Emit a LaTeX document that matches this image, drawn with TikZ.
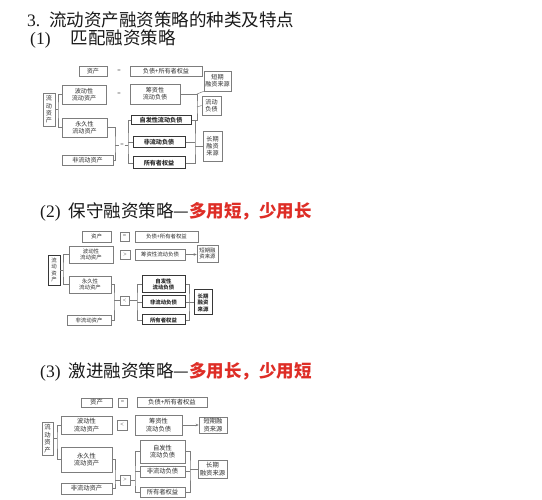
\documentclass[tikz,border=0pt]{standalone}
\usepackage{fontspec}
\setmainfont{Liberation Serif}
\newfontfamily\cjk{Noto Sans CJK SC}
\usetikzlibrary{arrows.meta}
\definecolor{boxgray}{RGB}{125,125,125}
\definecolor{darkline}{RGB}{55,55,55}
\definecolor{txtgray}{RGB}{45,45,45}
\definecolor{hred}{RGB}{222,45,38}
\definecolor{htxt}{RGB}{25,25,25}
\tikzset{
  box/.style={draw=boxgray, line width=0.6pt, inner sep=0pt, align=center, text=txtgray},
  bx1/.style={box, font=\cjk\fontsize{6.1}{7.2}\selectfont},
  bb1/.style={box, draw=darkline, line width=1pt, font=\cjk\bfseries\fontsize{6.1}{7.2}\selectfont},
  bx2/.style={box, font=\cjk\fontsize{5.4}{6.5}\selectfont},
  bb2/.style={box, draw=darkline, line width=1pt, font=\cjk\bfseries\fontsize{5.4}{6.5}\selectfont},
  bx3/.style={box, font=\cjk\fontsize{6.3}{7.5}\selectfont},
  sym/.style={inner sep=1pt, text=txtgray, font=\fontsize{6}{7}\selectfont},
  conn/.style={draw=boxgray, line width=0.5pt},
  arr/.style={conn, -{Stealth[length=3pt,width=2.6pt]}},
  head/.style={inner sep=0pt, anchor=west, text=htxt, font=\fontsize{17.5}{20}\selectfont}
}
\begin{document}
\begin{tikzpicture}[x=1pt,y=-1pt]
\fill[white] (0,0) rectangle (542,500);
\useasboundingbox (0,0) rectangle (542,500);

% ---------- headings ----------
\node[head] (h0) at (27,20) {3.\hspace{9pt}{\cjk 流动资产融资策略的种类及特点}};
\node[head] (h1) at (30,39) {(1)\hspace{20pt}{\cjk 匹配融资策略}};
\node[head] (h2) at (40,212) {(2)\hspace{8pt}{\cjk 保守融资策略—}{\cjk\bfseries\color{hred}多用短，少用长}};
\node[head] (h3) at (40,372) {(3)\hspace{8pt}{\cjk 激进融资策略—}{\cjk\bfseries\color{hred}多用长，少用短}};

% ---------- diagram 1 ----------
\node[bx1, minimum width=28pt, minimum height=10pt] (d1a) at (93,71) {资产};
\node[sym] (d1q1) at (119,71) {=};
\node[bx1, minimum width=72pt, minimum height=10pt] (d1b) at (166,71) {负债+所有者权益};
\node[bx1, minimum width=12pt, minimum height=33pt] (d1c) at (49,109.5) {流\\动\\资\\产};
\node[bx1, minimum width=44pt, minimum height=19pt] (d1d) at (84,94.5) {波动性\\流动资产};
\node[sym] (d1q2) at (119,94) {=};
\node[bx1, minimum width=50pt, minimum height=20pt] (d1e) at (155,94) {筹资性\\流动负债};
\node[bx1, minimum width=27pt, minimum height=20pt] (d1f) at (217.5,81) {短期\\融资来源};
\node[bx1, minimum width=19pt, minimum height=19pt] (d1g) at (211.5,105.5) {流动\\负债};
\node[bx1, minimum width=45pt, minimum height=19pt] (d1h) at (84.5,127.5) {永久性\\流动资产};
\node[bx1, minimum width=51pt, minimum height=10pt] (d1i) at (87.5,160) {非流动资产};
\node[bb1, minimum width=60pt, minimum height=9pt] (d1j) at (161,120.5) {自发性流动负债};
\node[bb1, minimum width=52pt, minimum height=11pt] (d1k) at (159,142.5) {非流动负债};
\node[bb1, minimum width=52pt, minimum height=12pt] (d1o) at (159,163) {所有者权益};
\node[bx1, minimum width=19pt, minimum height=30pt] (d1m) at (212.5,146) {长期\\融资\\来源};
\node[sym] (d1q3) at (122,145) {=};
\coordinate (d1p) at (58,109.5);
\coordinate (d1r) at (115,145);
\coordinate (d1s) at (128,145);
\coordinate (d1t) at (197,107);
\coordinate (d1u) at (195,146);
\draw[conn] (d1c.east) -- (d1p);
\draw[conn] (d1d.west) -| (d1p) |- (d1h.west);
\draw[conn] (d1h.east) -| (d1r) |- (d1i.east);
\draw[conn] (d1r) -- (d1q3);
\draw[conn] (d1q3) -- (d1s);
\draw[conn] (d1j.west) -| (d1s) |- (d1o.west);
\draw[conn] (d1k.west) -- (d1k.west -| d1s);
\draw[conn] (d1e.east) -| (d1t) |- (d1j.east);
\draw[conn] (d1t) -- (d1g.west);
\draw[conn] (d1e.east -| d1t) -- (d1f.south west);
\draw[conn] (d1j.east) -| (d1u) |- (d1o.east);
\draw[conn] (d1k.east) -- (d1k.east -| d1u);
\draw[conn] (d1u) -- (d1m.west);

% ---------- diagram 2 ----------
\node[bx2, minimum width=29pt, minimum height=11pt] (d2a) at (96.5,236.5) {资产};
\node[box, sym, minimum width=9pt, minimum height=9pt] (d2eq) at (124.5,236.5) {=};
\node[bx2, minimum width=63pt, minimum height=11pt] (d2b) at (166.5,236.5) {负债+所有者权益};
\node[bx2, draw=darkline, line width=0.9pt, minimum width=12pt, minimum height=30pt] (d2c) at (54,270) {流\\动\\资\\产};
\node[bx2, minimum width=44pt, minimum height=17pt] (d2d) at (91,254.5) {波动性\\流动资产};
\node[box, sym, minimum width=10pt, minimum height=9pt] (d2gt) at (125,254.5) {>};
\node[bx2, minimum width=50pt, minimum height=11pt] (d2e) at (160,254.5) {筹资性流动负债};
\node[bx2, minimum width=21pt, minimum height=17pt] (d2f) at (207.5,253.5) {短期融\\资来源};
\node[bx2, minimum width=42pt, minimum height=17pt] (d2h) at (90,284.5) {永久性\\流动资产};
\node[bx2, minimum width=44pt, minimum height=10pt] (d2i) at (89,320) {非流动资产};
\node[box, sym, minimum width=9pt, minimum height=9pt] (d2lt) at (124.5,300.5) {<};
\node[bb2, minimum width=43pt, minimum height=17pt] (d2j) at (163.5,284.5) {自发性\\流动负债};
\node[bb2, minimum width=43pt, minimum height=12pt] (d2k) at (163.5,302) {非流动负债};
\node[bb2, minimum width=43pt, minimum height=10pt] (d2o) at (163.5,320) {所有者权益};
\node[bb2, minimum width=18pt, minimum height=25pt] (d2m) at (203,302.5) {长期\\融资\\来源};
\coordinate (d2p) at (63,270);
\coordinate (d2r) at (114,300.5);
\coordinate (d2s) at (137,300.5);
\coordinate (d2t) at (189,302.5);
\draw[conn] (d2c.east) -- (d2p);
\draw[conn] (d2d.west) -| (d2p) |- (d2h.west);
\draw[conn] (d2h.east) -| (d2r) |- (d2i.east);
\draw[conn] (d2r) -- (d2lt.west);
\draw[conn] (d2lt.east) -- (d2s);
\draw[conn] (d2j.west) -| (d2s) |- (d2o.west);
\draw[conn] (d2k.west) -- (d2k.west -| d2s);
\draw[conn] (d2j.east) -| (d2t) |- (d2o.east);
\draw[conn] (d2k.east) -- (d2k.east -| d2t);
\draw[conn] (d2t) -- (d2m.west);
\draw[arr] (d2e.east) -- (d2f.west |- d2e.east);

% ---------- diagram 3 ----------
\node[bx3, minimum width=31pt, minimum height=9pt] (d3a) at (96.5,402.5) {资产};
\node[box, sym, minimum width=9pt, minimum height=9pt] (d3eq) at (122.5,402.5) {=};
\node[bx3, minimum width=70pt, minimum height=10pt] (d3b) at (172,402) {负债+所有者权益};
\node[bx3, minimum width=11pt, minimum height=33pt] (d3c) at (47.5,438.5) {流\\动\\资\\产};
\node[bx3, minimum width=51pt, minimum height=18pt] (d3d) at (86.5,425) {波动性\\流动资产};
\node[box, sym, minimum width=10pt, minimum height=10pt] (d3lt) at (122,425) {<};
\node[bx3, minimum width=47pt, minimum height=20pt] (d3e) at (158.5,425) {筹资性\\流动负债};
\node[bx3, minimum width=28pt, minimum height=16pt] (d3f) at (213,425) {短期融\\资来源};
\node[bx3, minimum width=51pt, minimum height=25pt] (d3h) at (86.5,459.5) {永久性\\流动资产};
\node[bx3, minimum width=51pt, minimum height=11pt] (d3i) at (86.5,488.5) {非流动资产};
\node[box, sym, minimum width=10pt, minimum height=10pt] (d3gt) at (125,480) {>};
\node[bx3, minimum width=45pt, minimum height=23pt] (d3j) at (162.5,451.5) {自发性\\流动负债};
\node[bx3, minimum width=45pt, minimum height=11pt] (d3k) at (162.5,471.5) {非流动负债};
\node[bx3, minimum width=45pt, minimum height=10pt] (d3o) at (162.5,492) {所有者权益};
\node[bx3, minimum width=29pt, minimum height=18pt] (d3m) at (212.5,469) {长期\\融资来源};
\coordinate (d3p) at (57,438.5);
\coordinate (d3r) at (115,480);
\coordinate (d3s) at (135,480);
\coordinate (d3t) at (190,469);
\draw[conn] (d3c.east) -- (d3p);
\draw[conn] (d3d.west) -| (d3p) |- (d3h.west);
\draw[conn] (d3h.east) -| (d3r) |- (d3i.east);
\draw[conn] (d3r) -- (d3gt.west);
\draw[conn] (d3gt.east) -- (d3s);
\draw[conn] (d3j.west) -| (d3s) |- (d3o.west);
\draw[conn] (d3k.west) -- (d3k.west -| d3s);
\draw[conn] (d3j.east) -| (d3t) |- (d3o.east);
\draw[conn] (d3k.east) -- (d3k.east -| d3t);
\draw[conn] (d3t) -- (d3m.west);
\draw[arr] (d3e.east) -- (d3f.west);
\end{tikzpicture}
\end{document}
